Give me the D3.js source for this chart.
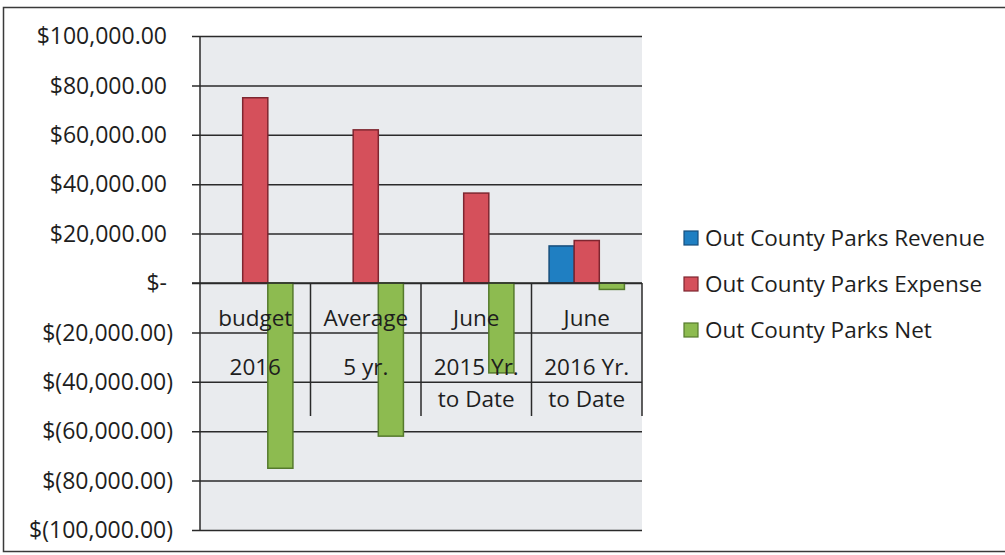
<!DOCTYPE html>
<html>
<head>
<meta charset="utf-8">
<script src="https://cdn.jsdelivr.net/npm/d3@7"></script>
<style>
  body { margin: 0; background: #fff; }
  svg text { font-family: "Open Sans", Lato, sans-serif; fill: #1e1e1e; }
</style>
</head>
<body>
<svg id="chart" width="1005" height="555"></svg>
<script>
// Out County Parks -- budget vs. actual

var categories = ["budget 2016", "Average 5 yr.", "June 2015 Yr. to Date", "June 2016 Yr. to Date"];
var categoryLines = [["budget", "2016"], ["Average", "5 yr."], ["June", "2015 Yr.", "to Date"], ["June", "2016 Yr.", "to Date"]];
var seriesNames = ["Out County Parks Revenue", "Out County Parks Expense", "Out County Parks Net"];
var revenue = [0, 0, 0, 15000];
var expense = [75000, 62000, 36400, 17200];
var net = [-75000, -62000, -36400, -2600];
var yTicks = [100000, 80000, 60000, 40000, 20000, 0, -20000, -40000, -60000, -80000, -100000];

var fills = ["#1f7fc2", "#d5505b", "#8dbb50"];
var strokes = ["#174e7c", "#7e2630", "#557a2c"];

var svg = d3.select("#chart");
var plot = { left: 200, right: 642, top: 36, bottom: 530 };

// outer chart border
svg.append("rect")
  .attr("x", 3.5).attr("y", 7.5)
  .attr("width", 1005).attr("height", 544)
  .attr("fill", "#fff")
  .attr("stroke", "#3a3a3a").attr("stroke-width", 1.5);

// plot area fill
svg.append("rect")
  .attr("x", plot.left).attr("y", plot.top)
  .attr("width", plot.right - plot.left).attr("height", plot.bottom - plot.top)
  .attr("fill", "#e9ebee");

var y = d3.scaleLinear().domain([-100000, 100000]).range([plot.bottom, plot.top]);
var x0 = d3.scaleBand().domain(categories).range([plot.left, plot.right]);
var x1 = d3.scaleBand().domain(d3.range(3))
  .range([0, x0.bandwidth()]).paddingOuter(0.7);

var money = function (v) {
  if (v === 0) return "$-";
  var s = "$" + d3.format(",.2f")(Math.abs(v));
  return v < 0 ? "$(" + s.slice(1) + ")" : s;
};

// gridlines + y axis ticks
var yAxis = d3.axisLeft(y).tickValues(yTicks)
  .tickSize(plot.right - plot.left + 8).tickFormat("");
svg.append("g")
  .attr("transform", "translate(" + plot.right + ",0)")
  .call(yAxis)
  .call(function (g) {
    g.select(".domain").remove();
    g.selectAll(".tick line").attr("stroke", "#2a2a2a").attr("stroke-width", 1.5);
  });

// y labels (accounting style, parens hang past the digits)
svg.append("g").selectAll("text")
  .data(yTicks)
  .join("text")
  .attr("x", function (d) { return d < 0 ? 173 : 167; })
  .attr("y", function (d) { return y(d); })
  .attr("dy", "0.36em")
  .attr("text-anchor", "end")
  .style("font-size", "23px")
  .text(money);

// y axis line
svg.append("line")
  .attr("x1", plot.left).attr("x2", plot.left)
  .attr("y1", plot.top).attr("y2", plot.bottom)
  .attr("stroke", "#2a2a2a").attr("stroke-width", 1.5);

// category separators hanging below the zero line
svg.append("g").selectAll("line")
  .data(categories)
  .join("line")
  .attr("x1", function (d) { return x0(d) + x0.bandwidth(); })
  .attr("x2", function (d) { return x0(d) + x0.bandwidth(); })
  .attr("y1", y(0)).attr("y2", 416)
  .attr("stroke", "#2a2a2a").attr("stroke-width", 1.5);

// bars
var rows = categories.map(function (c, i) {
  return { cat: c, values: [revenue[i], expense[i], net[i]] };
});

svg.append("g").selectAll("g")
  .data(rows)
  .join("g")
  .attr("transform", function (d) { return "translate(" + x0(d.cat) + ",0)"; })
  .selectAll("rect")
  .data(function (d) { return d.values.map(function (v, k) { return { k: k, v: v }; }).filter(function (e) { return e.v !== 0; }); })
  .join("rect")
  .attr("x", function (d) { return x1(d.k); })
  .attr("width", x1.bandwidth())
  .attr("y", function (d) { return y(Math.max(0, d.v)); })
  .attr("height", function (d) { return Math.abs(y(d.v) - y(0)); })
  .attr("fill", function (d) { return fills[d.k]; })
  .attr("stroke", function (d) { return strokes[d.k]; })
  .attr("stroke-width", 1.5);

// zero line over the bars
svg.append("line")
  .attr("x1", plot.left - 8).attr("x2", plot.right)
  .attr("y1", y(0)).attr("y2", y(0))
  .attr("stroke", "#2a2a2a").attr("stroke-width", 1.5);

// category labels, drawn over the bars
var lineY = [318, 367, 399];
svg.append("g").selectAll("text")
  .data(categoryLines)
  .join("text")
  .attr("text-anchor", "middle")
  .style("font-size", "22.5px")
  .each(function (lines, i) {
    var cx = x0(categories[i]) + x0.bandwidth() / 2;
    d3.select(this).selectAll("tspan")
      .data(lines)
      .join("tspan")
      .attr("x", cx)
      .attr("y", function (d, j) { return lineY[j]; })
      .attr("dy", "0.36em")
      .text(function (d) { return d; });
  });

// legend
var legend = svg.append("g").selectAll("g")
  .data(seriesNames)
  .join("g")
  .attr("transform", function (d, i) { return "translate(684," + (238 + i * 46) + ")"; });

legend.append("rect")
  .attr("x", 0).attr("y", -7)
  .attr("width", 14).attr("height", 14)
  .attr("fill", function (d, i) { return fills[i]; })
  .attr("stroke", function (d, i) { return strokes[i]; })
  .attr("stroke-width", 1.2);

legend.append("text")
  .attr("x", 21).attr("y", 0)
  .attr("dy", "0.36em")
  .style("font-size", "22.5px")
  .text(function (d) { return d; });
</script>
</body>
</html>
